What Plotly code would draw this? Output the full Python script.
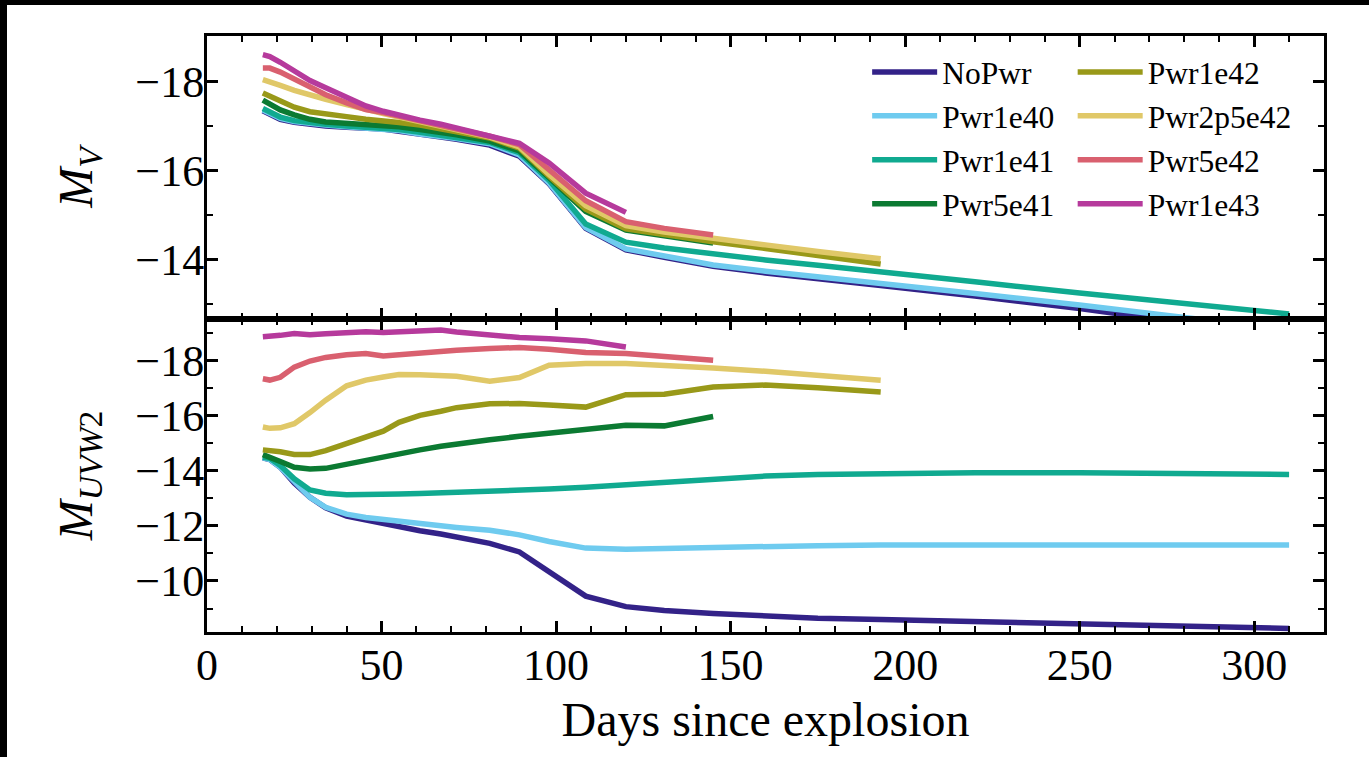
import plotly.graph_objects as go
from plotly.subplots import make_subplots

# ---------------- data ----------------
DAYS = [16, 18, 21, 25, 29.5, 34, 40, 45.5, 50.5, 55, 61, 67, 71.5, 81, 89.5,
        98, 108.5, 120, 131, 145, 160, 175, 193, 220, 250, 280, 310]

MODELS = ["NoPwr", "Pwr1e40", "Pwr1e41", "Pwr5e41",
          "Pwr1e42", "Pwr2p5e42", "Pwr5e42", "Pwr1e43"]
COLORS = ["#332288", "#6FCBEF", "#10AA90", "#0B7A32",
          "#999919", "#E0C868", "#D9606F", "#B63A9C"]

# M_V (top panel)
MV_NoPwr = [-17.34, -17.25, -17.15, -17.08, -17.03, -17.00, -16.97, -16.95, -16.93, -16.88,
            -16.80, -16.75, -16.70, -16.57, -16.32, -15.70, -14.70, -14.22, -14.05, -13.85,
            -13.70, -13.56, -13.42, -13.18, -12.90, -12.58, -12.27]
MV_Pwr1e40 = [-17.36, -17.27, -17.17, -17.10, -17.05, -17.02, -16.98, -16.96, -16.94, -16.90,
              -16.82, -16.78, -16.72, -16.60, -16.35, -15.72, -14.72, -14.24, -14.08, -13.88,
              -13.74, -13.62, -13.48, -13.24, -12.98, -12.70, -12.42]
MV_Pwr1e41 = [-17.39, -17.30, -17.20, -17.12, -17.07, -17.04, -17.00, -16.98, -16.96, -16.92,
              -16.86, -16.80, -16.74, -16.63, -16.40, -15.78, -14.80, -14.39, -14.26, -14.12,
              -13.99, -13.87, -13.73, -13.50, -13.25, -13.02, -12.78]
MV_Pwr5e41 = [-17.58, -17.50, -17.36, -17.25, -17.15, -17.09, -17.06, -17.03, -17.01, -16.98,
              -16.92, -16.86, -16.80, -16.66, -16.44, -15.84, -15.08, -14.66, -14.52, -14.37]
MV_Pwr1e42 = [-17.74, -17.67, -17.54, -17.42, -17.32, -17.26, -17.21, -17.15, -17.12, -17.08,
              -17.02, -16.95, -16.87, -16.73, -16.50, -15.87, -15.13, -14.69, -14.55, -14.40,
              -14.25, -14.08, -13.90]
MV_Pwr2p5e42 = [-18.04, -18.00, -17.91, -17.80, -17.69, -17.60, -17.48, -17.36, -17.28, -17.20,
                -17.10, -17.00, -16.91, -16.75, -16.53, -15.91, -15.21, -14.76, -14.62, -14.47,
                -14.33, -14.18, -14.02]
MV_Pwr5e42 = [-18.30, -18.30, -18.21, -18.05, -17.87, -17.70, -17.52, -17.37, -17.30, -17.22,
              -17.12, -17.02, -16.94, -16.77, -16.58, -16.02, -15.32, -14.85, -14.70, -14.55]
MV_Pwr1e43 = [-18.60, -18.56, -18.43, -18.22, -18.02, -17.86, -17.65, -17.45, -17.33, -17.24,
              -17.13, -17.04, -16.95, -16.78, -16.61, -16.17, -15.49, -15.06]

# M_UVW2 (bottom panel)
MUV_NoPwr = [-14.46, -14.40, -14.12, -13.55, -13.03, -12.65, -12.35, -12.20, -12.06, -11.96,
             -11.82, -11.70, -11.58, -11.36, -11.05, -10.36, -9.45, -9.07, -8.93, -8.82,
             -8.72, -8.65, -8.60, -8.52, -8.46, -8.38, -8.28]
MUV_Pwr1e40 = [-14.46, -14.40, -14.12, -13.58, -13.03, -12.67, -12.42, -12.30, -12.22, -12.15,
               -12.08, -12.00, -11.94, -11.84, -11.67, -11.43, -11.19, -11.15, -11.18, -11.22,
               -11.26, -11.28, -11.30, -11.30, -11.30, -11.30, -11.30]
MUV_Pwr1e41 = [-14.48, -14.45, -14.18, -13.70, -13.30, -13.18, -13.12, -13.12, -13.13, -13.15,
               -13.17, -13.19, -13.21, -13.25, -13.29, -13.33, -13.40, -13.49, -13.55, -13.70,
               -13.80, -13.86, -13.90, -13.92, -13.92, -13.90, -13.86]
MUV_Pwr5e41 = [-14.58, -14.50, -14.33, -14.12, -14.06, -14.08, -14.24, -14.38, -14.52, -14.62,
               -14.75, -14.88, -14.97, -15.12, -15.24, -15.36, -15.52, -15.64, -15.62, -15.96]
MUV_Pwr1e42 = [-14.75, -14.74, -14.68, -14.58, -14.58, -14.72, -14.99, -15.22, -15.43, -15.75,
               -16.00, -16.15, -16.28, -16.42, -16.43, -16.38, -16.30, -16.75, -16.77, -17.03,
               -17.10, -17.00, -16.85]
MUV_Pwr2p5e42 = [-15.58, -15.53, -15.55, -15.70, -16.10, -16.55, -17.07, -17.28, -17.39, -17.48,
                 -17.47, -17.44, -17.42, -17.24, -17.37, -17.82, -17.88, -17.88, -17.82, -17.72,
                 -17.60, -17.45, -17.27]
MUV_Pwr5e42 = [-17.33, -17.28, -17.38, -17.75, -17.97, -18.10, -18.20, -18.24, -18.15, -18.20,
               -18.27, -18.33, -18.36, -18.42, -18.46, -18.40, -18.28, -18.24, -18.15, -18.00]
MUV_Pwr1e43 = [-18.85, -18.86, -18.90, -18.97, -18.92, -18.96, -19.00, -19.03, -19.00, -19.03,
               -19.08, -19.09, -19.02, -18.91, -18.82, -18.78, -18.70, -18.48]

MV = [MV_NoPwr, MV_Pwr1e40, MV_Pwr1e41, MV_Pwr5e41,
      MV_Pwr1e42, MV_Pwr2p5e42, MV_Pwr5e42, MV_Pwr1e43]
MUV = [MUV_NoPwr, MUV_Pwr1e40, MUV_Pwr1e41, MUV_Pwr5e41,
       MUV_Pwr1e42, MUV_Pwr2p5e42, MUV_Pwr5e42, MUV_Pwr1e43]

X_TICKS = [0, 50, 100, 150, 200, 250, 300]
X_TITLE = "Days since explosion"
Y1_TITLE = "<i>M</i><sub><i>V</i></sub>"
Y2_TITLE = "<i>M</i><sub><i>UVW</i>2</sub>"

# ---------------- figure ----------------
FONT = "Liberation Serif"
W, H = 1369, 757
L, R, T, B = 207, 45, 36, 125
PW, PH = W - L - R, H - T - B

fig = make_subplots(rows=2, cols=1, shared_xaxes=True, vertical_spacing=0,
                    row_heights=[0.4745, 0.5255])

for i, name in enumerate(MODELS):
    legend_id = "legend" if i < 4 else "legend2"
    fig.add_trace(go.Scatter(x=DAYS[:len(MV[i])], y=MV[i], mode="lines", name=name,
                             line=dict(color=COLORS[i], width=5.5),
                             legend=legend_id, showlegend=True), row=1, col=1)
    fig.add_trace(go.Scatter(x=DAYS[:len(MUV[i])], y=MUV[i], mode="lines", name=name,
                             line=dict(color=COLORS[i], width=5.5),
                             legend=legend_id, showlegend=False), row=2, col=1)

axis_common = dict(showline=True, linecolor="black", linewidth=3, mirror="ticks",
                   ticks="inside", ticklen=11, tickwidth=2.5, tickcolor="black",
                   showgrid=False, zeroline=False,
                   tickfont=dict(family=FONT, size=44, color="black"))

fig.update_xaxes(**axis_common, range=[0, 320], tickvals=X_TICKS, ticklabelstandoff=-8,
                 minor=dict(dtick=10, tick0=0, ticks="inside", ticklen=6, tickwidth=1.5,
                            tickcolor="black", showgrid=False))
fig.update_xaxes(showticklabels=False, row=1, col=1)
fig.update_xaxes(title=dict(text=X_TITLE, font=dict(family=FONT, size=48, color="black"),
                            standoff=14), row=2, col=1)

fig.update_yaxes(**axis_common, dtick=2, ticklabelstandoff=-9,
                 minor=dict(dtick=1, ticks="inside", ticklen=6, tickwidth=1.5,
                            tickcolor="black", showgrid=False))
fig.update_yaxes(range=[-12.67, -19.02], tickvals=[-18, -16, -14],
                 title=dict(text=Y1_TITLE, font=dict(family=FONT, size=48, color="black"),
                            standoff=28), row=1, col=1)
fig.update_yaxes(range=[-8.15, -19.5], tickvals=[-18, -16, -14, -12, -10],
                 title=dict(text=Y2_TITLE, font=dict(family=FONT, size=48, color="black"),
                            standoff=28), row=2, col=1)

legend_style = dict(font=dict(family=FONT, size=31.5, color="black"), bgcolor="rgba(0,0,0,0)",
                    xanchor="left", yanchor="top", tracegroupgap=0, itemwidth=65)
fig.update_layout(
    width=W, height=H,
    margin=dict(l=L, r=R, t=T, b=B),
    paper_bgcolor="white", plot_bgcolor="white",
    legend=dict(x=0.591, y=0.985, **legend_style),
    legend2=dict(x=0.775, y=0.985, **legend_style),
    shapes=[
        dict(type="rect", xref="paper", yref="paper", x0=-L / PW, x1=(7 - L) / PW,
             y0=-B / PH, y1=1 + T / PH,
             fillcolor="black", line=dict(width=0), layer="above"),
        dict(type="rect", xref="paper", yref="paper", x0=-L / PW, x1=1 + R / PW,
             y0=1 + (T - 5) / PH, y1=1 + T / PH,
             fillcolor="black", line=dict(width=0), layer="above"),
    ],
)

fig.write_html("out.html", config={"displayModeBar": False},
               post_script="document.body.style.margin='0px';"
                           "document.body.style.overflow='hidden';")
